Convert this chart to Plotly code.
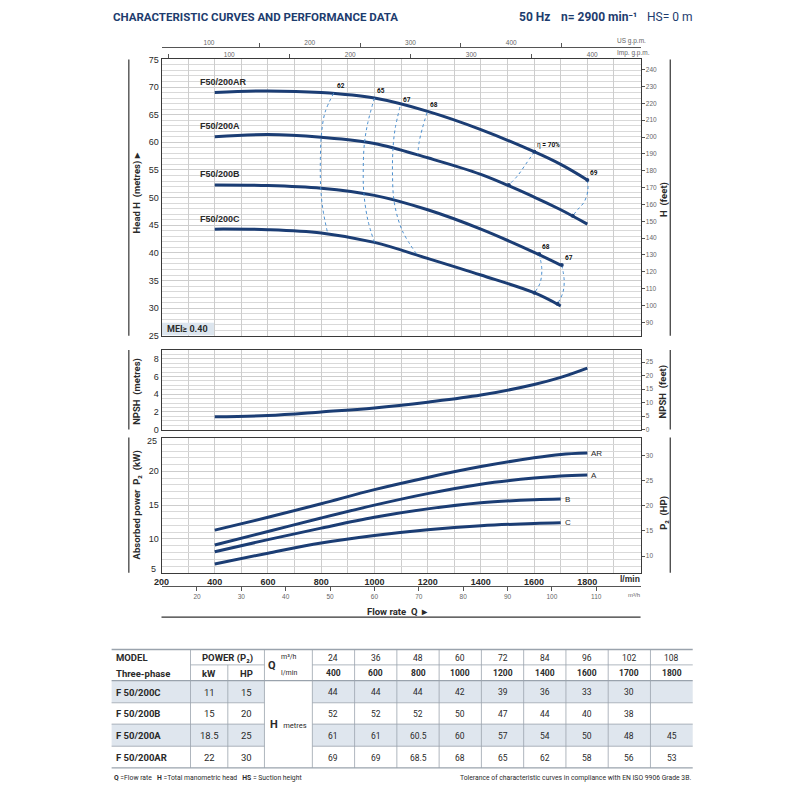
import plotly.graph_objects as go

# ---- data read from the sheet ----
flow_lmin = [400, 600, 800, 1000, 1200, 1400, 1600, 1700, 1800]
flow_m3h = [24, 36, 48, 60, 72, 84, 96, 102, 108]

# head curves (m) vs flow_lmin
head_ar = [69.0, 69.3, 69.0, 68.0, 65.6, 62.3, 58.3, 56.0, 53.2]
head_a = [61.0, 61.4, 60.9, 59.8, 57.2, 54.2, 50.1, 47.8, 45.2]
head_b = [52.3, 52.2, 51.7, 50.4, 47.8, 44.3, 40.1, 37.8]
head_c = [44.3, 44.2, 43.6, 41.9, 39.0, 36.0, 32.8, 30.4]
curve_names = ["F50/200AR", "F50/200A", "F50/200B", "F50/200C"]

# NPSH (m)
npsh_m = [1.45, 1.6, 2.0, 2.45, 3.1, 3.9, 5.1, 5.9, 6.95]

# absorbed power P2 (kW)
p2_ar = [11.3, 13.2, 15.2, 17.3, 19.1, 20.7, 22.0, 22.5, 22.7]
p2_a = [9.1, 11.1, 13.1, 15.0, 16.7, 18.1, 19.0, 19.3, 19.45]
p2_b = [8.1, 9.9, 11.6, 13.2, 14.45, 15.35, 15.8, 15.9]
p2_c = [6.3, 7.9, 9.4, 10.5, 11.35, 11.95, 12.3, 12.4]
power_names = ["AR", "A", "B", "C"]

# iso-efficiency lines (flow l/min, head m)
eff_62_q = [847, 815, 801, 797, 798, 806, 824]
eff_62_h = [68.9, 65.5, 61.5, 57.0, 52.0, 48.0, 43.6]
eff_65_q = [1000, 975, 962, 958, 960, 975, 1000]
eff_65_h = [68.0, 63.5, 59.6, 55.0, 51.0, 46.0, 41.9]
eff_67_q = [1096, 1078, 1070, 1068, 1075, 1105, 1160]
eff_67_h = [66.4, 62.5, 59.0, 54.0, 49.0, 44.0, 39.7]
eff_68_q = [1198, 1180, 1168, 1163]
eff_68_h = [65.4, 62.5, 60.0, 57.8]
eff_70_q = [1601, 1568, 1537, 1505]
eff_70_h = [58.3, 56.0, 53.9, 52.3]
eff_69_q = [1800, 1802, 1788, 1765, 1745]
eff_69_h = [53.2, 51.3, 49.2, 47.9, 46.7]
eff_68b_q = [1619, 1629, 1622, 1601]
eff_68b_h = [39.8, 37.0, 34.5, 32.8]
eff_67b_q = [1704, 1713, 1708, 1688]
eff_67b_h = [37.8, 35.0, 32.8, 30.8]

# table
models = ["F 50/200C", "F 50/200B", "F 50/200A", "F 50/200AR"]
power_kw = ["11", "15", "18.5", "22"]
power_hp = ["15", "20", "25", "30"]
table_c = ["44", "44", "44", "42", "39", "36", "33", "30", ""]
table_b = ["52", "52", "52", "50", "47", "44", "40", "38", ""]
table_a = ["61", "61", "60.5", "60", "57", "54", "50", "48", "45"]
table_ar = ["69", "69", "68.5", "68", "65", "62", "58", "56", "53"]

# ---- styling ----
NAVY = "#1b3d74"
EFF = "#4a8fd0"
GRID = "#cdcdcd"
BORDER = "#3a3a3a"
TXT = "#2a2a2a"
NARROW = "Liberation Sans Narrow, Arial Narrow, Liberation Sans, sans-serif"
SANS = "Roboto, Open Sans, sans-serif"
OFF = 8            # the page body keeps its default 8px margin
W = H = 800 - 2 * OFF
L, R = 155, 639
TOP = (55, 335)
NP = (349.3, 430)
PW = (438, 575)
FT = 3.28084
HPKW = 0.7457


def X(px):
    return (px - OFF) / W


def Y(py):
    return 1 - (py - OFF) / H


fig = go.Figure()
ann = []
shapes = []


def note(px, py, text, size=8, bold=False, xa="center", ya="middle", color=TXT, fam=NARROW, angle=0):
    ann.append(dict(x=X(px), y=Y(py), xref="paper", yref="paper", text=f"<b>{text}</b>" if bold else text,
                    showarrow=False, xanchor=xa, yanchor=ya, textangle=angle,
                    font=dict(size=size, color=color, family=fam)))


def line(x0, y0, x1, y1, color=BORDER, width=1):
    shapes.append(dict(type="line", xref="paper", yref="paper", x0=X(x0), y0=Y(y0), x1=X(x1), y1=Y(y1),
                       line=dict(color=color, width=width)))


# head curves
for name, hh in zip(curve_names, [head_ar, head_a, head_b, head_c]):
    fig.add_trace(go.Scatter(x=flow_lmin[:len(hh)], y=hh, mode="lines", line=dict(color=NAVY, width=3, shape="spline"),
                             xaxis="x", yaxis="y", hoverinfo="skip"))
    ann.append(dict(x=336, y=hh[0] + 1.9, xref="x", yref="y", text=f"<b>{name}</b>", showarrow=False,
                    xanchor="left", font=dict(size=9, color=TXT, family=NARROW)))

# efficiency lines
eff_sets = [(eff_62_q, eff_62_h, "62", False), (eff_65_q, eff_65_h, "65", False),
            (eff_67_q, eff_67_h, "67", False), (eff_68_q, eff_68_h, "68", False),
            (eff_70_q, eff_70_h, "η <b>= 70%</b>", True), (eff_69_q, eff_69_h, "69", True),
            (eff_68b_q, eff_68b_h, "68", True), (eff_67b_q, eff_67b_h, "67", True)]
for q, h, lab, dots in eff_sets:
    fig.add_trace(go.Scatter(x=q, y=h, mode="lines", line=dict(color=EFF, width=1, dash="dot", shape="spline"),
                             xaxis="x", yaxis="y", hoverinfo="skip"))
    if dots:
        fig.add_trace(go.Scatter(x=[q[0], q[-1]], y=[h[0], h[-1]], mode="markers",
                                 marker=dict(color=NAVY, size=4), xaxis="x", yaxis="y", hoverinfo="skip"))
    txt = lab if "η" in lab else f"<b>{lab}</b>"
    ann.append(dict(x=q[0], y=h[0], xref="x", yref="y", text=txt, showarrow=False, xanchor="left",
                    yanchor="bottom", xshift=1, yshift=1, font=dict(size=6.5, color="#111", family=SANS)))

# NPSH
fig.add_trace(go.Scatter(x=flow_lmin, y=npsh_m, mode="lines", line=dict(color=NAVY, width=3, shape="spline"),
                         xaxis="x2", yaxis="y3", hoverinfo="skip"))

# power
for name, pp in zip(power_names, [p2_ar, p2_a, p2_b, p2_c]):
    fig.add_trace(go.Scatter(x=flow_lmin[:len(pp)], y=pp, mode="lines", line=dict(color=NAVY, width=3, shape="spline"),
                             xaxis="x3", yaxis="y5", hoverinfo="skip"))
    ann.append(dict(x=flow_lmin[len(pp) - 1], y=pp[-1], xref="x3", yref="y5", text=name, showarrow=False,
                    xanchor="left", xshift=2, font=dict(size=8, color=TXT, family=NARROW)))

# dummies so secondary axes are drawn
for xa, ya in [("x4", "y"), ("x5", "y"), ("x", "y2"), ("x2", "y4"), ("x3", "y6"), ("x6", "y5")]:
    fig.add_trace(go.Scatter(x=[None], y=[None], xaxis=xa, yaxis=ya, hoverinfo="skip"))

tick_font = dict(size=9, color=TXT, family=NARROW)
small_font = dict(size=6.5, color="#666", family=NARROW)
frame = dict(showline=True, mirror=True, linecolor=BORDER, linewidth=1, zeroline=False)

xbase = dict(domain=[X(L), X(R)], range=[200, 2000], dtick=100, showgrid=True, gridcolor=GRID, gridwidth=0.8,
             showticklabels=False, ticks="", **frame)
lmin_ticks = list(range(200, 1801, 200))

layout = dict(
    width=W, height=H, margin=dict(l=0, r=0, t=0, b=0), paper_bgcolor="white", plot_bgcolor="white",
    showlegend=False, hovermode=False,
    xaxis=dict(anchor="y", **xbase),
    xaxis2=dict(anchor="y3", **xbase),
    xaxis3=dict(anchor="y5", domain=[X(L), X(R)], range=[200, 2000], tickvals=lmin_ticks,
                ticktext=[f"<b>{v}</b>" for v in lmin_ticks],
                ticks="", showgrid=True, gridcolor=GRID, gridwidth=0.8,
                minor=dict(dtick=100, showgrid=True, gridcolor=GRID, gridwidth=0.8),
                tickfont=dict(size=9, color=TXT, family=NARROW), **frame),
    xaxis4=dict(overlaying="x", side="top", anchor="free", position=Y(42.7),
                range=[200 / 3.78541, 2000 / 3.78541], tickvals=[100, 200, 300, 400], ticks="",
                showgrid=False, showline=True, linecolor="#555", linewidth=1, tickfont=small_font,
                minor=dict(tickvals=[150, 250, 350, 450], ticks="outside", ticklen=4, tickcolor="#555")),
    xaxis5=dict(overlaying="x", side="top", anchor="y", range=[200 / 4.54609, 2000 / 4.54609],
                tickvals=[100, 200, 300, 400], ticks="", showgrid=False, showline=False, tickfont=small_font,
                minor=dict(tickvals=[50, 150, 250, 350], ticks="outside", ticklen=4, tickcolor="#555")),
    xaxis6=dict(overlaying="x3", side="bottom", anchor="free", position=Y(588.3), range=[12, 120],
                tickvals=list(range(20, 111, 10)), ticks="outside", ticklen=4, tickcolor="#555",
                showgrid=False, showline=True, linecolor="#555", linewidth=1, tickfont=small_font),
    yaxis=dict(anchor="x", domain=[Y(TOP[1]), Y(TOP[0])], range=[25, 75], tickvals=list(range(25, 76, 5)),
               ticks="", showgrid=True, gridcolor=GRID, gridwidth=0.7,
               minor=dict(dtick=1, showgrid=True, gridcolor="#d9d9d9", gridwidth=0.6),
               tickfont=tick_font, **frame),
    yaxis2=dict(overlaying="y", side="right", anchor="x", range=[25 * FT, 75 * FT],
                tickvals=list(range(90, 241, 10)), ticks="outside", ticklen=3, tickcolor="#555",
                showgrid=False, tickfont=small_font),
    yaxis3=dict(anchor="x2", domain=[Y(NP[1]), Y(NP[0])], range=[0, 9], tickvals=[0, 2, 4, 6, 8],
                ticks="", showgrid=True, gridcolor=GRID, gridwidth=0.7,
                minor=dict(dtick=0.5, showgrid=True, gridcolor="#d9d9d9", gridwidth=0.6),
                tickfont=tick_font, **frame),
    yaxis4=dict(overlaying="y3", side="right", anchor="x2", range=[0, 9 * FT], tickvals=[0, 5, 10, 15, 20, 25],
                ticks="outside", ticklen=3, tickcolor="#555", showgrid=False, tickfont=small_font),
    yaxis5=dict(anchor="x3", domain=[Y(PW[1]), Y(PW[0])], range=[5, 25], tickvals=[10, 15, 20],
                ticks="", showgrid=True, gridcolor=GRID, gridwidth=0.7,
                minor=dict(dtick=1, showgrid=True, gridcolor="#d9d9d9", gridwidth=0.6),
                tickfont=tick_font, **frame),
    yaxis6=dict(overlaying="y5", side="right", anchor="x3", range=[5 / HPKW, 25 / HPKW],
                tickvals=[10, 15, 20, 25, 30], ticks="outside", ticklen=3, tickcolor="#555",
                showgrid=False, tickfont=small_font),
)

# end labels of the power axis sit a little inside, as on the sheet
note(152, 442, "25", size=9, xa="right")
note(151, 571.5, "5", size=9, xa="right")

# header
note(104, 12.3, "CHARACTERISTIC CURVES AND PERFORMANCE DATA", size=11.5, bold=True, xa="left",
     color="#1d3c6e", fam=SANS)
note(514, 12.3, "50 Hz", size=12, bold=True, xa="left", color="#1d3c6e", fam=SANS)
note(557, 12.3, "n= 2900 min⁻¹", size=12, bold=True, xa="left", color="#1d3c6e", fam=SANS)
note(643, 12.3, "HS= 0 m", size=12, xa="left", color="#1d3c6e", fam=SANS)
note(613, 36.7, "US g.p.m.", size=6.5, xa="left", color="#666")
note(613, 48.3, "Imp. g.p.m.", size=6.5, xa="left", color="#666")

# MEI box
shapes.append(dict(type="rect", xref="paper", yref="paper", x0=X(L + 0.5), x1=X(208), y0=Y(334.5), y1=Y(321.7),
                   fillcolor="#dce5ee", line=dict(width=0), layer="above"))
note(159, 328.5, "MEI≥ 0.40", size=9, bold=True, xa="left", fam=SANS)

# side titles and frame lines
for (t, b), lt, rt, lc, rc in [(TOP, "Head H  (metres) ▸", "H  (feet)", 190, 197),
                               (NP, "NPSH  (metres)", "NPSH  (feet)", 391, 391),
                               (PW, "Absorbed power  P₂  (kW)", "P₂  (HP)", 506, 514)]:
    line(122, t, 122, b, color="#333", width=1.2)
    line(669, t, 669, b, color="#333", width=1.2)
    note(130, lc, lt, size=9.5, bold=True, angle=-90, fam=SANS)
    note(662, rc, rt, size=9.5, bold=True, angle=-90, fam=SANS)

note(640, 581, "l/min", size=8.5, bold=True, xa="right")
note(640, 598, "m³/h", size=6, xa="right", color="#666")
note(393, 614, "Flow rate  Q  ▸", size=9.5, bold=True, fam=SANS)
line(L, 620, R, 620, color="#333", width=1.2)

# ---- table ----
col_x = [104.6, 184.3, 222.0, 259.0, 307.4] + [307.4 + 42.7 * k for k in range(1, 10)]
row_y = [652.7, 668.3, 684.3, 706.7, 728.3, 750.7, 772.7]
TBL = "#9aa3ad"
TF = 9.5
VF = 8.5

for r in (0, 2):
    for xa0, xa1 in [(col_x[0], col_x[3]), (col_x[4], col_x[-1])]:
        shapes.append(dict(type="rect", xref="paper", yref="paper", x0=X(xa0), x1=X(xa1),
                           y0=Y(row_y[r + 3]), y1=Y(row_y[r + 2]), fillcolor="#dfe6ee", line=dict(width=0),
                           layer="below"))

line(col_x[0], row_y[0], col_x[-1], row_y[0], TBL, 1.3)
line(col_x[1], row_y[1], col_x[3], row_y[1], TBL, 0.8)
line(col_x[4], row_y[1], col_x[-1], row_y[1], TBL, 0.8)
line(col_x[0], row_y[2], col_x[-1], row_y[2], TBL, 1.3)
for yy in row_y[3:6]:
    line(col_x[0], yy, col_x[3], yy, TBL, 0.8)
    line(col_x[4], yy, col_x[-1], yy, TBL, 0.8)
line(col_x[0], row_y[6], col_x[-1], row_y[6], TBL, 1.3)
line(col_x[1], row_y[0], col_x[1], row_y[6], TBL, 0.8)
line(col_x[2], row_y[1], col_x[2], row_y[6], TBL, 0.8)
for xx in col_x[3:-1]:
    line(xx, row_y[0], xx, row_y[6], TBL, 0.8)

hy1 = (row_y[0] + row_y[1]) / 2 + 0.5
hy2 = (row_y[1] + row_y[2]) / 2 + 0.5
note(107, hy1, "MODEL", size=TF, bold=True, xa="left", fam=SANS)
note(107, hy2, "Three-phase", size=TF, bold=True, xa="left", fam=SANS)
note((col_x[1] + col_x[3]) / 2, hy1, "POWER (P₂)", size=TF, bold=True, fam=SANS)
note((col_x[1] + col_x[2]) / 2, hy2, "kW", size=TF, bold=True, fam=SANS)
note((col_x[2] + col_x[3]) / 2, hy2, "HP", size=TF, bold=True, fam=SANS)
note(261, row_y[1] + 1, "Q", size=11, bold=True, xa="left", fam=SANS)
note(274, hy1 - 1, "m³/h", size=7, xa="left", fam=SANS)
note(274, hy2, "l/min", size=7, xa="left", fam=SANS)
centers = [(col_x[4 + k] + col_x[5 + k]) / 2 for k in range(9)]
for cx, m3, lm in zip(centers, flow_m3h, flow_lmin):
    note(cx, hy1, str(m3), size=VF, fam=SANS)
    note(cx, hy2, str(lm), size=VF, bold=True, fam=SANS)
for i, (m, kw, hp, vals) in enumerate(zip(models, power_kw, power_hp, [table_c, table_b, table_a, table_ar])):
    cy = (row_y[i + 2] + row_y[i + 3]) / 2 + 0.5
    note(107, cy, m, size=TF, bold=True, xa="left", fam=SANS)
    note((col_x[1] + col_x[2]) / 2, cy, kw, size=TF, fam=SANS)
    note((col_x[2] + col_x[3]) / 2, cy, hp, size=TF, fam=SANS)
    for cx, v in zip(centers, vals):
        if v:
            note(cx, cy, v, size=VF, fam=SANS)
note(263, 728.5, "<b>H</b>  <span style='font-size:7.5px'>metres</span>", size=11, xa="left", fam=SANS)

note(104.6, 783.3, "<b>Q</b> =Flow rate   <b>H</b> =Total manometric head   <b>HS</b> = Suction height",
     size=6.8, xa="left", fam=SANS)
note(col_x[-1], 783.3, "Tolerance of characteristic curves in compliance with EN ISO 9906 Grade 3B.",
     size=6.8, xa="right", fam=SANS)

layout["annotations"] = ann
layout["shapes"] = shapes
fig.update_layout(**layout)
fig.write_html("out.html")
